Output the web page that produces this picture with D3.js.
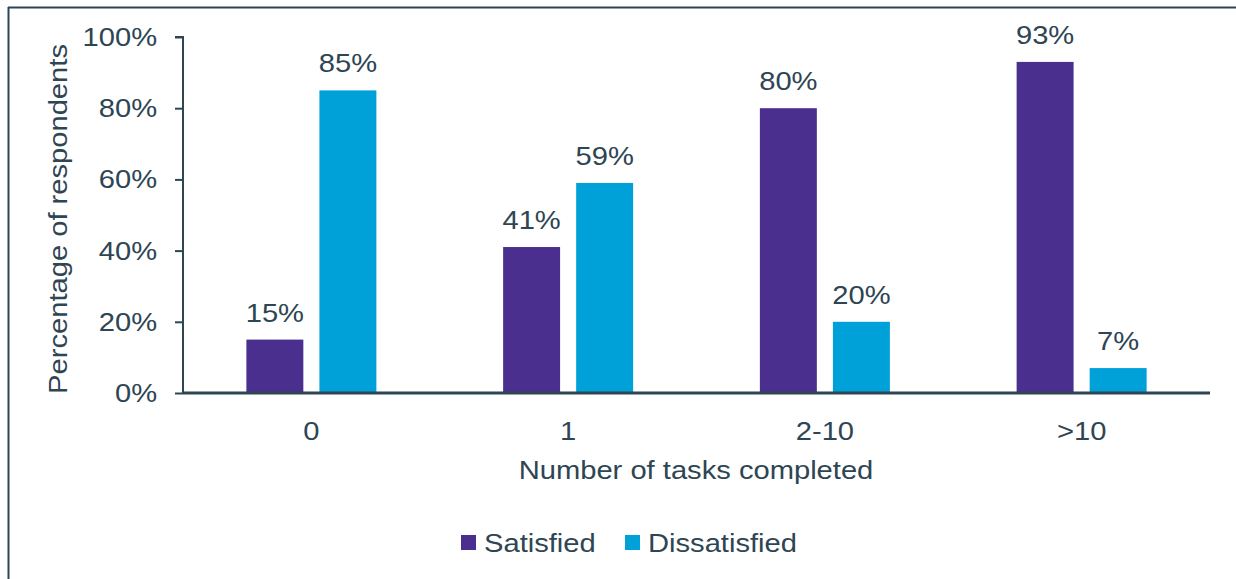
<!DOCTYPE html>
<html><head><meta charset="utf-8">
<script src="https://cdn.jsdelivr.net/npm/d3@7/dist/d3.min.js"></script>
<style>body{margin:0;background:#fff;}svg{display:block;font-family:"Liberation Sans",Arial,sans-serif;}</style>
</head><body>
<svg id="c" width="1236" height="579"></svg>
<script>
const categories = ["0", "1", "2-10", ">10"];
const seriesNames = ["Satisfied", "Dissatisfied"];
const satisfied = [15, 41, 80, 93];
const dissatisfied = [85, 59, 20, 7];
const yTicks = [0, 20, 40, 60, 80, 100];
const colors = ["#4A2F8E", "#00A0D8"];
const textColor = "#2E4553";

(function(){
const FS = 26.5, SX = 1.1;
const svg = d3.select("#c");
function label(x, y, txt, anchor, rot) {
  return svg.append("text")
    .attr("transform", `translate(${x},${y})` + (rot ? ` rotate(${rot})` : "") + ` scale(${SX},1)`)
    .attr("text-anchor", anchor || "start").attr("font-size", FS).attr("fill", textColor).text(txt);
}
// frame
svg.append("line").attr("x1",8).attr("x2",1236).attr("y1",7.5).attr("y2",7.5).attr("stroke",textColor).attr("stroke-width",2);
svg.append("line").attr("x1",8.5).attr("x2",8.5).attr("y1",7).attr("y2",579).attr("stroke",textColor).attr("stroke-width",2);

const mLeft = 183, mRight = 1210, mTop = 37, mBottom = 393;
const x = d3.scaleBand().domain(categories).range([mLeft, mRight]);
const xs = d3.scaleBand().domain(seriesNames).range([0, 130]).paddingInner(0.22);
const y = d3.scaleLinear().domain([0, 100]).range([mBottom, mTop]);

const data = categories.map((c,i)=>({cat:c, vals:[satisfied[i], dissatisfied[i]]}));

const g = svg.append("g");
const groups = g.selectAll("g.cat").data(data).join("g")
  .attr("transform", d => `translate(${x(d.cat) + x.bandwidth()/2 - 65},0)`);
groups.selectAll("rect").data(d => d.vals.map((v,j)=>({s:seriesNames[j], v, j}))).join("rect")
  .attr("x", d => xs(d.s)).attr("width", xs.bandwidth())
  .attr("y", d => y(d.v)).attr("height", d => y(0) - y(d.v))
  .attr("fill", d => colors[d.j]);
groups.selectAll("text").data(d => d.vals.map((v,j)=>({s:seriesNames[j], v, j}))).join("text")
  .attr("transform", d => `translate(${xs(d.s) + xs.bandwidth()/2},${y(d.v) - 18}) scale(${SX},1)`)
  .attr("text-anchor","middle").attr("font-size",FS).attr("fill",textColor)
  .text(d => d.v + "%");

// y axis
const yAxis = svg.append("g").attr("transform",`translate(${mLeft},0)`)
  .call(d3.axisLeft(y).tickValues(yTicks).tickFormat(d=>d+"%").tickSize(8).tickPadding(15.6));
yAxis.select(".domain").attr("stroke",textColor).attr("stroke-width",2).attr("d",`M-8,${mTop}H0V${mBottom}`);
yAxis.selectAll(".tick line").attr("stroke",textColor).attr("stroke-width",2);
yAxis.selectAll("text").attr("font-size",FS).attr("fill",textColor).attr("font-family","Liberation Sans, Arial, sans-serif")
  .attr("transform",`scale(${SX},1)`);

// x axis
const xAxis = svg.append("g").attr("transform",`translate(0,${mBottom})`)
  .call(d3.axisBottom(x).tickSize(0).tickPadding(28));
xAxis.select(".domain").attr("stroke",textColor).attr("stroke-width",3).attr("d",`M${mLeft},0H${mRight}`);
xAxis.selectAll("text").attr("font-size",FS).attr("fill",textColor).attr("font-family","Liberation Sans, Arial, sans-serif")
  .attr("transform",`scale(${SX},1)`).attr("x", 0);

// titles
label(696, 479, "Number of tasks completed", "middle");
label(67, 219, "Percentage of respondents", "middle", -90);

// legend
const legX = [461, 625];
seriesNames.forEach((s,i)=>{
  svg.append("rect").attr("x",legX[i]).attr("y",535).attr("width",15).attr("height",15).attr("fill",colors[i]);
  label(legX[i]+23, 552, s, "start");
});
})();
</script>
</body></html>
